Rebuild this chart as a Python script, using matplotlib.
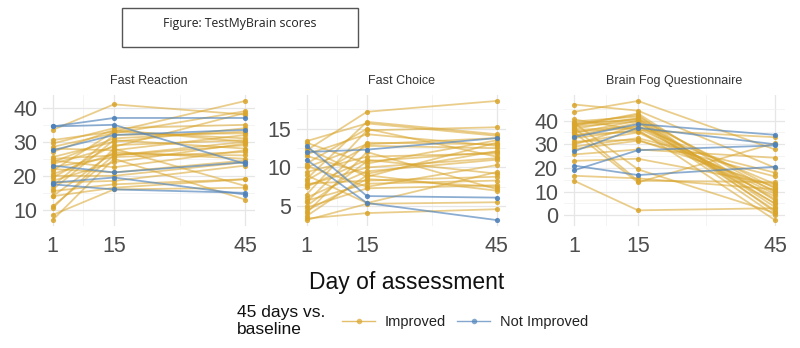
import matplotlib
matplotlib.use("Agg")
import matplotlib.pyplot as plt
from matplotlib.lines import Line2D
from matplotlib.patches import Rectangle

plt.rcParams['font.family'] = ['Liberation Sans', 'DejaVu Sans']

# days of assessment
days = [1, 15, 45]

# Fast Reaction: each row = one subject (day 1, day 15, day 45)
fr_improved = [
    [33.5, 41, 38], [30.5, 33, 42], [29.5, 34, 35], [28.5, 32.5, 39],
    [28, 27.5, 32], [27, 33.5, 30], [25.5, 30, 34], [25, 26, 29],
    [24.5, 22.5, 27.5], [24, 31, 33], [23.5, 28.5, 38.5], [22.5, 25.5, 27],
    [22, 21, 24.5], [21.5, 33, 31], [20.5, 26.5, 26], [20, 20, 24],
    [19.5, 29, 30.5], [18.5, 24, 29.5], [18, 18.5, 23], [17, 32, 32.5],
    [16, 30.5, 28], [15.5, 17.5, 19], [14, 27, 25], [14, 16.5, 19],
    [11, 26, 30], [10.5, 28, 17], [8.5, 16, 16.5], [7, 25, 13],
]
fr_not_improved = [
    [34.5, 37, 37], [34.5, 35, 23.5], [27.5, 32, 33.5],
    [23, 21, 24], [18, 19.5, 14.5], [17.5, 16, 15],
]

# Fast Choice
fc_improved = [
    [13.4, 15.7, 14.1], [13.2, 10.5, 13.5], [12.5, 8.8, 13.2], [12.2, 17.2, 18.6],
    [11.7, 14.3, 12.8], [11.5, 9.2, 12.1], [10.5, 15.0, 11.4], [10.2, 7.5, 10.3],
    [10.0, 13.0, 13.8], [9.4, 11.4, 11.8], [9.0, 5.4, 9.4], [8.5, 15.9, 14.3],
    [8.3, 12.8, 12.5], [7.9, 8.3, 8.8], [7.7, 10.0, 11.2], [7.5, 11.0, 9.2],
    [6.5, 14.8, 15.2], [6.1, 9.5, 11.0], [5.7, 7.9, 8.3], [5.5, 13.2, 13.0],
    [5.0, 10.8, 12.0], [4.8, 7.3, 7.7], [4.4, 8.5, 7.5], [4.1, 12.0, 7.2],
    [3.7, 9.0, 7.0], [3.4, 4.1, 4.6], [3.2, 5.3, 5.5],
]
fc_not_improved = [
    [12.0, 12.3, 13.8], [12.8, 6.3, 6.1], [11.0, 5.4, 3.2],
]

# Brain Fog Questionnaire
bf_improved = [
    [46.8, 44.2, 20.1], [43.7, 48.3, 27.8], [39.6, 41.7, 9.7], [38.9, 40.3, 4.9],
    [38.5, 42.4, 1.4], [38.2, 40.8, 11.4], [37.8, 43, 6.2], [37.5, 39.6, 0],
    [36.5, 41, 3.5], [36, 37.5, 13.2], [35.4, 36.8, 9], [34.7, 40, 2.1],
    [34, 35.4, 10.4], [33.5, 39, 6.9], [32.6, 36.1, -2], [31.2, 31.9, 12],
    [30.5, 35, 8], [29.9, 38, 5], [29, 32.6, 18], [28, 31.5, 16.4],
    [25.7, 27.8, 24.3], [23, 23.9, 13], [16.7, 15.6, 11], [14.6, 2.1, 3],
    [39, 19.4, 1], [37, 14.6, 14], [35, 13.9, 30.5], [40.5, 36, 33],
]
bf_not_improved = [
    [33, 38.5, 34], [27, 37, 30], [19, 27.5, 29.5], [21, 17, 20.5],
]

titles = ["Fast Reaction", "Fast Choice", "Brain Fog Questionnaire"]
yticks = [[10, 20, 30, 40], [5, 10, 15], [0, 10, 20, 30, 40]]
yminor = [[15, 25, 35], [7.5, 12.5, 17.5], [5, 15, 25, 35, 45]]
panels = [(fr_improved, fr_not_improved),
          (fc_improved, fc_not_improved),
          (bf_improved, bf_not_improved)]

gold = '#d9a52c'
blue = '#4f82ba'

fig = plt.figure(figsize=(8, 3.48), dpi=100)

# axes boxes in pixels: left, right
boxes = [(43, 255), (297, 506), (564, 785)]
top_px, bot_px = 95, 226
H = 348.0

for i, (imp, notimp) in enumerate(panels):
    l, r = boxes[i]
    ax = fig.add_axes([l / 800, 1 - bot_px / H, (r - l) / 800, (bot_px - top_px) / H])
    for row in imp:
        ax.plot(days, row, color=gold, alpha=0.55, lw=1.3, zorder=2)
        ax.scatter(days, row, color=gold, alpha=0.85, s=14, lw=0, zorder=3)
    for row in notimp:
        ax.plot(days, row, color=blue, alpha=0.65, lw=1.3, zorder=4)
        ax.scatter(days, row, color=blue, alpha=0.9, s=14, lw=0, zorder=5)
    ax.set_xticks(days)
    ax.set_xticks([8, 30], minor=True)
    ax.set_yticks(yticks[i])
    ax.set_yticks(yminor[i], minor=True)
    ax.margins(0.05)
    ax.grid(True, which='major', color='#e6e6e6', lw=0.9)
    ax.grid(True, which='minor', color='#f0f0f0', lw=0.5)
    ax.set_axisbelow(True)
    for s in ax.spines.values():
        s.set_visible(False)
    ax.tick_params(which='both', length=0, labelsize=15.5, labelcolor='#4d4d4d', pad=4)
    ax.tick_params(axis='x', pad=7)
    ax.set_title(titles[i], fontsize=9, color='#333333', pad=8)

fig.text(407 / 800, 1 - 283 / H, "Day of assessment", fontsize=16.5,
         ha='center', va='center', color='#111111')

# title box
fig.patches.append(Rectangle((122 / 800, 1 - 47 / H), 236 / 800, 39 / H,
                             transform=fig.transFigure, fill=False,
                             edgecolor='#555555', lw=1))
fig.text(240 / 800, 1 - 24 / H, "Figure: TestMyBrain scores", fontsize=8.8,
         ha='center', va='center', color='#222222', family=['Open Sans', 'DejaVu Sans'])

# legend
fig.text(237 / 800, 1 - 321 / H, "45 days vs.\nbaseline", fontsize=12.5,
         ha='left', va='center', color='#111111', linespacing=1.15)
handles = [Line2D([0], [0], color=gold, alpha=0.7, lw=1, marker='o', ms=4, mew=0),
           Line2D([0], [0], color=blue, alpha=0.7, lw=1, marker='o', ms=4, mew=0)]
fig.legend(handles, ["Improved", "Not Improved"], ncol=2, frameon=False,
           loc='center left', bbox_to_anchor=(329 / 800, 1 - 322 / H),
           fontsize=10.5, handlelength=2.26, columnspacing=0.75, handletextpad=0.68,
           labelcolor='#222222')

fig.savefig("out.png", dpi=100)
